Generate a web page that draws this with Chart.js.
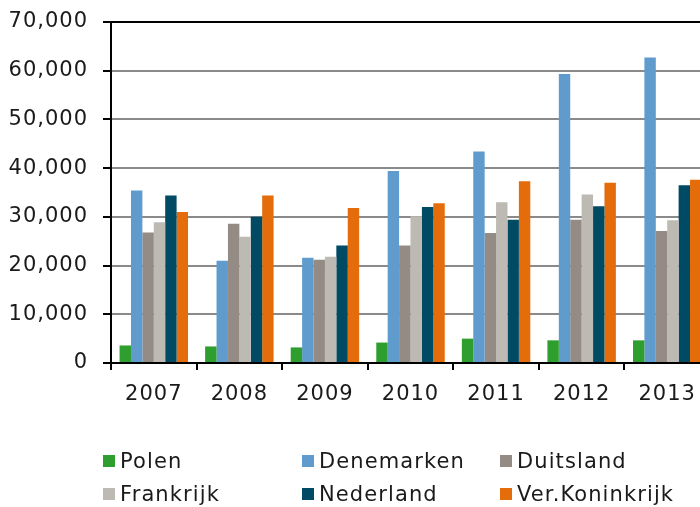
<!DOCTYPE html>
<html>
<head>
<meta charset="utf-8">
<script src="https://cdn.jsdelivr.net/npm/chart.js@4"></script>
<style>
  body { margin:0; width:700px; height:507px; overflow:hidden; background:#fff; font-family:"DejaVu Sans", sans-serif; }
  #box { position:absolute; left:0; top:0; width:720px; height:420px; }
  #legenda { position:absolute; left:0; top:0; width:700px; height:507px; pointer-events:none; }
  .voce { position:absolute; font-size:21px; letter-spacing:1.1px; color:#1a1a1a; white-space:nowrap; line-height:24px; }
  .voce span.q { display:inline-block; width:12px; height:12px; margin-right:5px; vertical-align:1px; }
</style>
</head>
<body>
<div id="box"><canvas id="grafico"></canvas></div>
<div id="legenda"></div>
<script>
// jaren
const anni = ["2007", "2008", "2009", "2010", "2011", "2012", "2013"];

// waarden per land (gelezen uit de figuur)
const polen       = [3600, 3400, 3200, 4200, 5000, 4650, 4650];
const denemarken  = [35400, 21000, 21600, 39400, 43400, 59300, 62700];
const duitsland   = [26800, 28600, 21200, 24100, 26700, 29400, 27100];
const frankrijk   = [28900, 25900, 21800, 30100, 33000, 34600, 29300];
const nederland   = [34400, 30000, 24100, 32000, 29400, 32200, 36500];
const verKonink   = [31000, 34400, 31800, 32800, 37300, 37000, 37600];

const nomi   = ["Polen", "Denemarken", "Duitsland", "Frankrijk", "Nederland", "Ver.Koninkrijk"];
const serie  = [polen, denemarken, duitsland, frankrijk, nederland, verKonink];
const colori = ["#2e9e2e", "#5f9bcd", "#948b84", "#bdbab3", "#004a64", "#e46c0a"];

const tickY = [0, 10000, 20000, 30000, 40000, 50000, 60000, 70000];

let datasets = [];
for (i = 0; i < nomi.length; i++) {
  datasets.push({
    label: nomi[i],
    data: serie[i],
    backgroundColor: colori[i],
    borderWidth: 0,
    categoryPercentage: 0.8,
    barPercentage: 1.0
  });
}

const font = { family: "DejaVu Sans", size: 21 };

// un po' di spaziatura tra le lettere, come nel originale
const spaziatura = {
  id: "spaziatura",
  beforeDraw: function (chart) { chart.ctx.letterSpacing = "1px"; }
};

new Chart(document.getElementById("grafico"), {
  type: "bar",
  data: { labels: anni, datasets: datasets },
  plugins: [spaziatura],
  options: {
    responsive: true,
    maintainAspectRatio: false,
    animation: false,
    layout: { padding: { left: 0, top: 22, right: 10, bottom: 0 } },
    plugins: { legend: { display: false }, tooltip: { enabled: false } },
    scales: {
      x: {
        grid: { drawOnChartArea: false, drawTicks: true, tickLength: 7, color: "#000", lineWidth: 2, offset: true },
        border: { color: "#000", width: 2 },
        ticks: { color: "#1a1a1a", font: font, padding: 12, maxRotation: 0 },
        afterFit: function (s) { s.height = 57; s.paddingLeft = 0; s.paddingRight = 0; }
      },
      y: {
        min: 0,
        max: 70000,
        afterBuildTicks: function (s) { s.ticks = tickY.map(v => ({ value: v })); },
        grid: {
          color: function (c) { return c.tick && c.tick.value == 70000 ? "#000" : "#8a8a8a"; },
          lineWidth: 2,
          tickColor: "#000",
          tickLength: 8
        },
        border: { color: "#000", width: 2 },
        ticks: {
          color: "#1a1a1a",
          font: font,
          padding: 15,
          callback: function (v) { return v.toLocaleString("en-US"); }
        },
        afterFit: function (s) { s.width = 111; s.paddingTop = 0; s.paddingBottom = 0; }
      }
    }
  }
});

// legenda in drie kolommen
const posX = [103, 302, 500];
const posY = [449, 482];
const leg = document.getElementById("legenda");
for (i = 0; i < nomi.length; i++) {
  const d = document.createElement("div");
  d.className = "voce";
  d.style.left = posX[i % 3] + "px";
  d.style.top = posY[Math.floor(i / 3)] + "px";
  d.innerHTML = '<span class="q" style="background:' + colori[i] + '"></span>' + nomi[i];
  leg.appendChild(d);
}
</script>
</body>
</html>
